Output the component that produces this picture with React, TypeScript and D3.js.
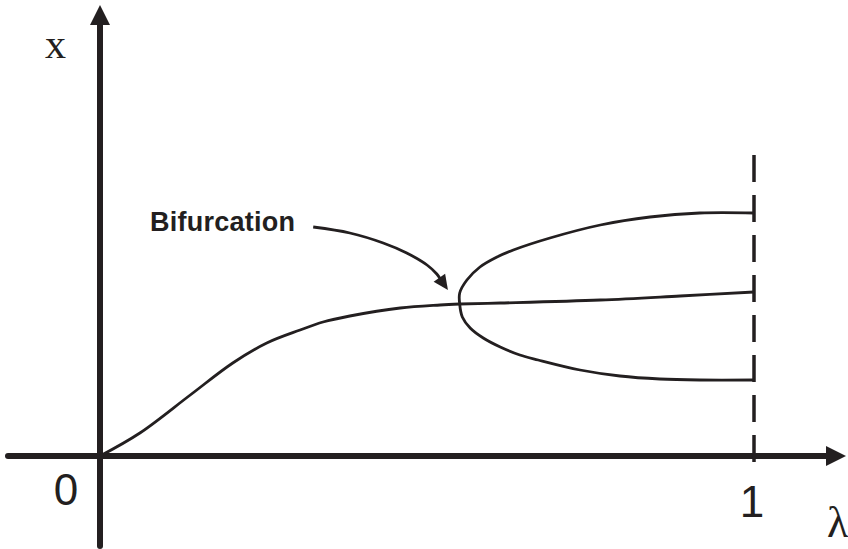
import React from "react";
import * as d3 from "d3";

const W = 848;
const H = 549;
const INK = "#231f20";

// (lambda, x) samples
const mainCurve: [number, number][] = [
  [0, 0], [0.061, 0.0575], [0.138, 0.1525], [0.203, 0.2325], [0.255, 0.2825],
  [0.306, 0.315], [0.341, 0.335], [0.382, 0.35], [0.459, 0.37], [0.52, 0.3775], [0.55, 0.38],
];
const middleBranch: [number, number][] = [
  [0.55, 0.38], [0.612, 0.3825], [0.765, 0.39], [0.887, 0.4], [1, 0.41],
];
const upperBranch: [number, number][] = [
  [0.55, 0.38], [0.55, 0.4075], [0.561, 0.44], [0.581, 0.4725], [0.607, 0.4975],
  [0.632, 0.515], [0.688, 0.545], [0.765, 0.5775], [0.841, 0.5975], [0.917, 0.6075], [1, 0.6075],
];
const lowerBranch: [number, number][] = [
  [0.55, 0.38], [0.554, 0.3475], [0.566, 0.32], [0.586, 0.295], [0.612, 0.2725],
  [0.642, 0.2525], [0.67, 0.24], [0.734, 0.215], [0.795, 0.2], [0.856, 0.1925], [0.917, 0.19], [1, 0.19],
];
const annotationPath: [number, number][] = [
  [0.326, 0.5725], [0.382, 0.5575], [0.433, 0.5325], [0.469, 0.5075], [0.5, 0.4775], [0.515, 0.455], [0.532, 0.415],
];
const annotationText = "Bifurcation";
const xTickLabels = [
  { v: 0, label: "0" },
  { v: 1, label: "1" },
];

export default function App() {
  const xs = d3.scaleLinear().domain([0, 1]).range([100, 754]);
  const ys = d3.scaleLinear().domain([0, 1]).range([456, 56]);
  const line = d3
    .line<[number, number]>()
    .x((d) => xs(d[0]))
    .y((d) => ys(d[1]))
    .curve(d3.curveCatmullRom.alpha(0.5));

  const x0 = xs(0);
  const y0 = ys(0);
  const xEnd = xs(1);

  // arrowhead of annotation
  const n = annotationPath.length;
  const tip = [xs(annotationPath[n - 1][0]), ys(annotationPath[n - 1][1])];
  const prev = [xs(annotationPath[n - 2][0]), ys(annotationPath[n - 2][1])];
  const dx = tip[0] - prev[0];
  const dy = tip[1] - prev[1];
  const len = Math.hypot(dx, dy);
  const ux = dx / len, uy = dy / len;
  const hl = 15, hw = 7;
  const bx = tip[0] - ux * hl, by = tip[1] - uy * hl;
  const head = `${tip[0]},${tip[1]} ${bx - uy * hw},${by + ux * hw} ${bx + uy * hw},${by - ux * hw}`;
  const shaft = annotationPath.slice(0, n - 1).concat([[
    ys.invert ? xs.invert(bx + ux * 2) : 0,
    ys.invert(by + uy * 2),
  ] as [number, number]]);

  return (
    <svg width={W} height={H} style={{ position: "absolute", left: 0, top: 0, background: "#fff" }}>
      {/* axes */}
      <line x1={8} y1={y0} x2={830} y2={y0} stroke={INK} strokeWidth={6} strokeLinecap="round" />
      <polygon points={`846,${y0} 826,${y0 - 10} 826,${y0 + 10}`} fill={INK} />
      <line x1={x0} y1={24} x2={x0} y2={546} stroke={INK} strokeWidth={6} strokeLinecap="round" />
      <polygon points={`${x0},5 ${x0 - 10},25 ${x0 + 10},25`} fill={INK} />

      {/* dashed limit line */}
      <line x1={xEnd} y1={155} x2={xEnd} y2={470} stroke={INK} strokeWidth={3.5} strokeDasharray="27 13" />

      {/* curves */}
      {[mainCurve, middleBranch, upperBranch, lowerBranch].map((d, i) => (
        <path key={i} d={line(d) || ""} fill="none" stroke={INK} strokeWidth={2.8} strokeLinejoin="round" />
      ))}

      {/* annotation */}
      <path d={line(shaft) || ""} fill="none" stroke={INK} strokeWidth={2.8} />
      <polygon points={head} fill={INK} />
      <text x={150} y={231} fontFamily="Liberation Sans, Arial, sans-serif" fontWeight="bold" fontSize={27} fill={INK} textLength={145}>
        {annotationText}
      </text>

      {/* labels */}
      <text x={45} y={58} fontFamily="Liberation Serif, Times New Roman, serif" fontSize={42} fill={INK}>x</text>
      <text x={827} y={537} fontFamily="Liberation Serif, Times New Roman, serif" fontSize={44} fill={INK}>λ</text>
      {xTickLabels.map((t) => (
        <text
          key={t.label}
          x={t.v === 0 ? 66 : xs(t.v) - 2}
          y={t.v === 0 ? 505 : 517}
          textAnchor="middle"
          fontFamily="Liberation Sans, Arial, sans-serif"
          fontSize={44}
          fill={INK}
        >
          {t.label}
        </text>
      ))}
    </svg>
  );
}
